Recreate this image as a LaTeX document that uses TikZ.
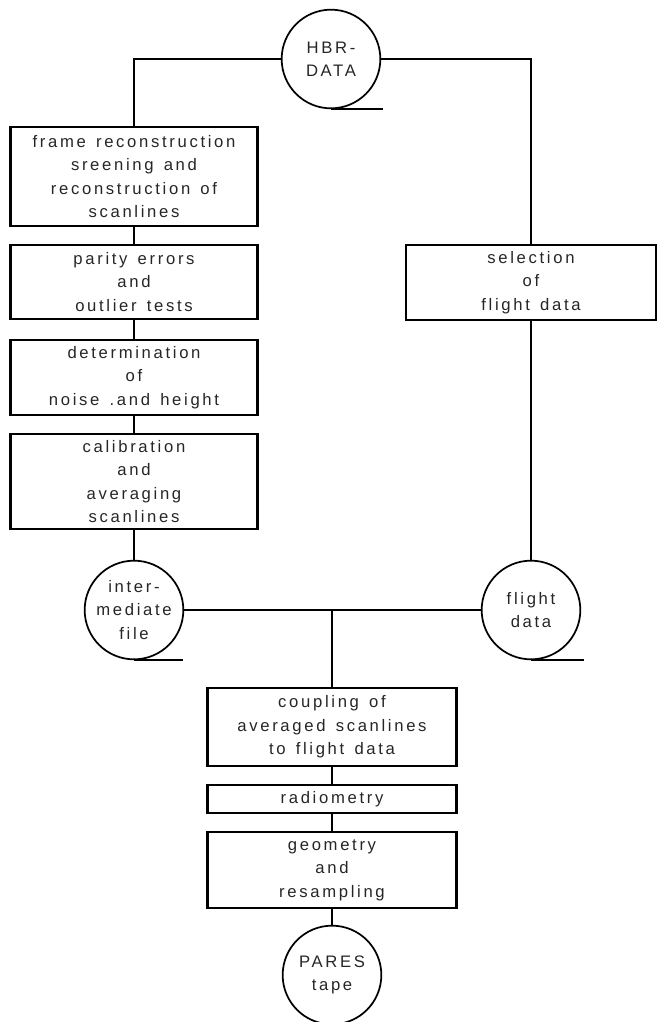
\documentclass[tikz,border=0pt]{standalone}
\usepackage{fontspec}
\setmainfont{Liberation Sans}[LetterSpace=16,WordSpace=1.4]
\newcommand\fs{\fontsize{12.5}{17.6}\selectfont}
\begin{document}
\begin{tikzpicture}[x=0.75pt,y=-0.75pt,
  box/.style={draw, line width=1.7pt, rectangle, inner sep=0pt, align=center, font=\fs, text=black!85},
  tape/.style={draw, line width=1.3pt, circle, inner sep=0pt, minimum size=74pt, align=center, font=\fs, text=black!85},
  conn/.style={line width=1.1pt},
  tail/.style={line width=1.6pt}]
\useasboundingbox (0,0) rectangle (659,1022);
\clip (0,0) rectangle (659,1022);

% tapes
\node[tape] (hbr) at (331,59) {HBR-\\DATA};
\node[tape] (inter) at (134,610) {inter-\\mediate\\file};
\node[tape] (flight) at (531,610) {flight\\data};
\node[tape] (pares) at (332,975) {PARES\\tape};

% boxes
\node[box, minimum width=185.25pt, minimum height=74.25pt] (frame) at (134,176.5)
  {frame reconstruction\\sreening and\\reconstruction of\\scanlines};
\node[box, minimum width=185.25pt, minimum height=55.5pt] (parity) at (134,282)
  {parity errors\\and\\outlier tests};
\node[box, minimum width=185.25pt, minimum height=56.25pt] (det) at (134,377.5)
  {determination\\of\\noise .and height};
\node[box, minimum width=185.25pt, minimum height=71.25pt] (calib) at (134,481.5)
  {calibration\\and\\averaging\\scanlines};
\node[box, minimum width=187.5pt, minimum height=56.25pt] (sel) at (531,282.5)
  {selection\\of\\flight data};
\node[box, minimum width=186.75pt, minimum height=58.5pt] (coup) at (332,727)
  {coupling of\\averaged scanlines\\to flight data};
\node[box, minimum width=186.75pt, minimum height=21pt] (radio) at (332,799)
  {radiometry};
\node[box, minimum width=186.75pt, minimum height=57pt] (geom) at (332,870)
  {geometry\\and\\resampling};

% tape tails
\draw[tail] (hbr.south) -- ++(52,0);
\draw[tail] (inter.south) -- ++(49,0);
\draw[tail] (flight.south) -- ++(53,0);

% connectors
\draw[conn] (hbr.west) -| (frame.north);
\draw[conn] (hbr.east) -| (sel.north);
\draw[conn] (frame.south) -- (parity.north);
\draw[conn] (parity.south) -- (det.north);
\draw[conn] (det.south) -- (calib.north);
\draw[conn] (calib.south) -- (inter.north);
\draw[conn] (sel.south) -- (flight.north);
\draw[conn] (inter.east) -- (flight.west);
\coordinate (j) at (coup.north |- inter.east);
\draw[conn] (j) -- (coup.north);
\draw[conn] (coup.south) -- (radio.north);
\draw[conn] (radio.south) -- (geom.north);
\draw[conn] (geom.south) -- (pares.north);
\end{tikzpicture}
\end{document}
